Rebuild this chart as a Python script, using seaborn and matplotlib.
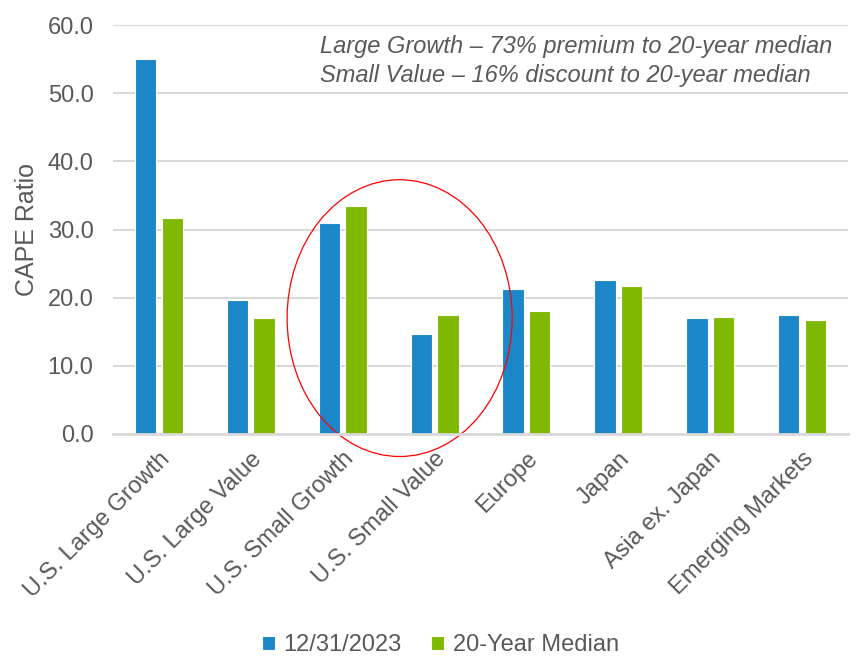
import numpy as np
import pandas as pd
import matplotlib.pyplot as plt
from matplotlib.patches import Ellipse
import matplotlib.ticker as mtick
import seaborn as sns

# CAPE ratios
categories = ["U.S. Large Growth", "U.S. Large Value", "U.S. Small Growth", "U.S. Small Value",
              "Europe", "Japan", "Asia ex. Japan", "Emerging Markets"]
current = [55.0, 19.6, 31.0, 14.7, 21.2, 22.6, 17.0, 17.5]
median_20y = [31.7, 17.0, 33.4, 17.4, 18.1, 21.7, 17.1, 16.7]
series_names = ["12/31/2023", "20-Year Median"]
note_lines = ["Large Growth \u2013 73% premium to 20-year median",
              "Small Value \u2013 16% discount to 20-year median"]

df = pd.DataFrame({
    "category": categories * 2,
    "value": current + median_20y,
    "series": [series_names[0]] * len(categories) + [series_names[1]] * len(categories),
})

sns.set_style("white")
plt.rcParams['font.family'] = ['Liberation Sans', 'DejaVu Sans']
text_col = "#595959"

fig = plt.figure(figsize=(8.64, 6.57), dpi=100)
ax = fig.add_axes([113/864, 1 - 434/657, (848 - 113)/864, (434 - 25)/657])

sns.barplot(data=df, x="category", y="value", hue="series",
            palette=["#1B87C9", "#7FB800"], saturation=1, width=0.58, gap=0.2,
            edgecolor="white", linewidth=0.8, ax=ax, legend=True)

ax.set_ylim(0, 60)
ax.set_xlim(-0.5, len(categories) - 0.5)
ax.yaxis.set_major_locator(mtick.MultipleLocator(10))
ax.yaxis.set_major_formatter(mtick.FormatStrFormatter("%.1f"))
ax.grid(axis="y", color="#D9D9D9", linewidth=1.5)
ax.set_axisbelow(True)
for s in ["left", "right", "top"]:
    ax.spines[s].set_visible(False)
ax.spines["bottom"].set_color("#D9D9D9")
ax.spines["bottom"].set_linewidth(2)
ax.tick_params(length=0, labelsize=17, colors=text_col)
ax.tick_params(axis="y", pad=14)
ax.tick_params(axis="x", pad=10)
ax.set_xlabel("")
ax.set_ylabel("CAPE Ratio", fontsize=18, color=text_col, labelpad=6)
plt.setp(ax.get_xticklabels(), rotation=45, ha="right", rotation_mode="anchor")

fig.text(320/864, 1 - 35/657, "\n".join(note_lines), ha="left", va="top",
         fontsize=17, style="italic", color=text_col, linespacing=1.35)

# red circle around the small-cap pair
ax.add_patch(Ellipse((2.62, 17.0), 2.45, 40.6, fill=False, edgecolor="red",
                     linewidth=0.9, clip_on=False))

handles, labels = ax.get_legend_handles_labels()
ax.legend_.remove()
fig.legend(handles, labels, loc="center", bbox_to_anchor=(0.51, 0.018), ncol=2,
           frameon=False, fontsize=17, handlelength=0.55, handleheight=0.55,
           handletextpad=0.35, columnspacing=1.25, labelcolor=text_col)

fig.savefig("out.png", dpi=100)
